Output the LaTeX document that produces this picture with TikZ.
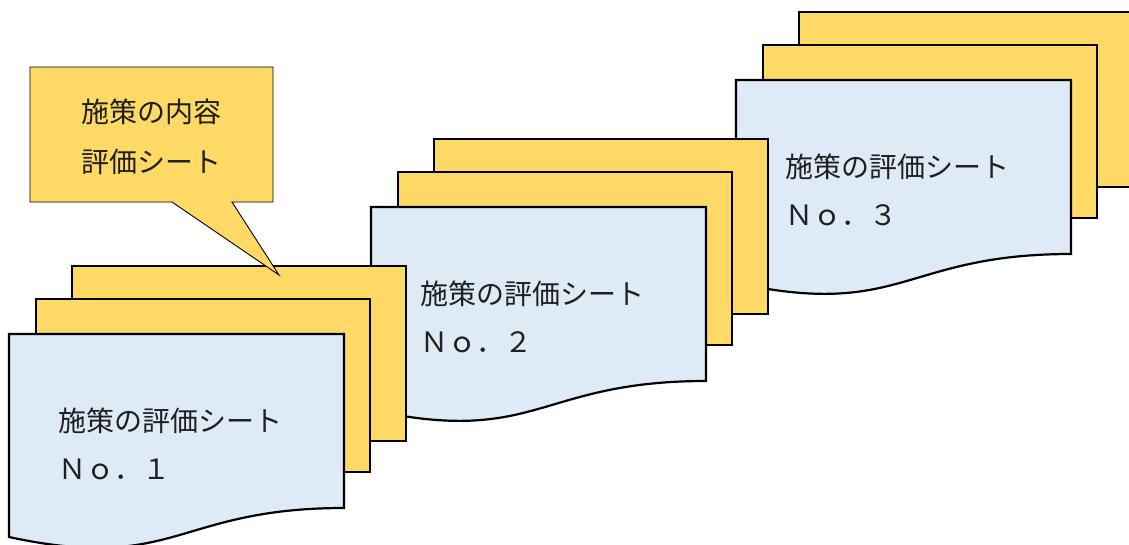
\documentclass[tikz,border=0pt]{standalone}
\usepackage{fontspec}
\newfontfamily\jpfont{Noto Sans CJK JP}
\definecolor{sheetyellow}{HTML}{FFD966}
\definecolor{sheetblue}{HTML}{DEEAF6}
\tikzset{
  backsheet/.style={fill=sheetyellow, draw=black, line width=2.2pt},
  frontsheet/.style={fill=sheetblue, draw=black, line width=2.2pt},
  sheettext/.style={font=\jpfont\fontsize{28}{28}\selectfont, anchor=west, inner sep=0pt, text=black!88},
  calloutbox/.style={fill=sheetyellow, draw=black, line width=0.9pt, line join=miter}
}
\newcommand\docstack[4]{%
  \begin{scope}[shift={(#1,#2)}]
    \draw[backsheet] (63,-68) rectangle ++(334,175);
    \draw[backsheet] (27,-35) rectangle ++(334,173);
    \draw[frontsheet] (0,0) -- (335,0) -- (335,174)
      .. controls (167,174) and (167,239) .. (0,203) -- cycle;
    \node[sheettext] (#3-title) at (49,87) {施策の評価シート};
    \node[sheettext] (#3-num) at (49,135) {Ｎｏ．#4};
  \end{scope}}
\begin{document}
\begin{tikzpicture}[x=1pt,y=-1pt]
  \useasboundingbox (0,0) rectangle (1129,544);
  \clip (0,0) rectangle (1129,544);
  \docstack{736}{80}{s3}{３}
  \docstack{371}{207}{s2}{２}
  \docstack{9}{334}{s1}{１}
  \draw[calloutbox] (30,67) -- (273,67) -- (273,202) -- (232,202)
    -- (279,275) -- (172,202) -- (30,202) -- cycle;
  \node[sheettext] (c1) at (81,112) {施策の内容};
  \node[sheettext] (c2) at (81,162) {評価シート};
\end{tikzpicture}
\end{document}
